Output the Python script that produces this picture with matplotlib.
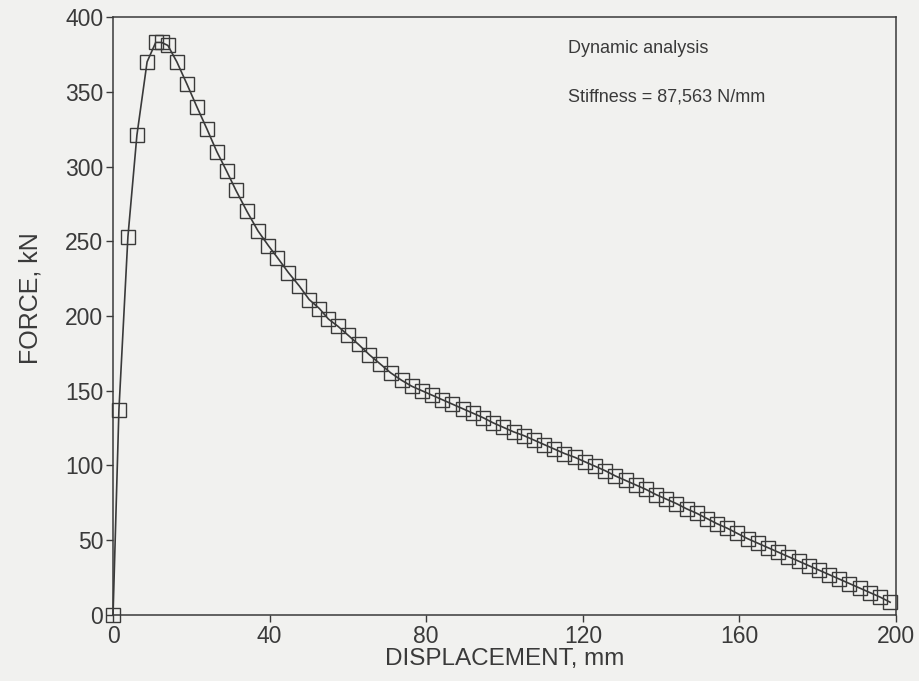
import matplotlib.pyplot as plt

# displacement (mm) and force (kN)
displacement = [0, 1.5, 3.8, 6.1, 8.7, 10.9, 12.4, 14.0, 16.3, 18.9, 21.4, 24.0,
                26.5, 29.0, 31.4, 34.2, 37.0, 39.7, 42.0, 44.8, 47.6, 50.1, 52.7,
                55.0, 57.5, 60.1, 62.7, 65.5, 68.2, 70.9, 73.7, 76.3,
                78.9, 81.5, 84.1, 86.7, 89.3, 91.9, 94.5, 97.1, 99.7, 102.3,
                104.9, 107.5, 110.1, 112.7, 115.3, 117.9, 120.5, 123.1, 125.7,
                128.3, 130.9, 133.5, 136.1, 138.7, 141.3, 143.9, 146.5, 149.1,
                151.7, 154.3, 156.9, 159.5, 162.1, 164.7, 167.3, 169.9, 172.5,
                175.1, 177.7, 180.3, 182.9, 185.5, 188.1, 190.7, 193.3, 195.9,
                198.5]
force = [0, 137, 253, 321, 370, 383, 383, 381, 370, 355, 340, 325,
         310, 297, 284, 270, 257, 247, 239, 229, 220, 211, 205,
         198, 193, 187, 181, 174, 168, 162, 157, 153,
         150, 147, 144, 141, 138, 135, 132, 128.5, 125.5, 122.5,
         120, 117, 114, 111, 108, 105.5, 102.5, 99.5, 96.5,
         93, 90, 87, 84, 80.5, 77.5, 74.5, 71, 68,
         64.5, 61, 58, 54.5, 51, 48, 45, 42, 39,
         36, 33, 30, 27, 24, 21, 18, 15, 12,
         8.5]

x_ticks = [0, 40, 80, 120, 160, 200]
y_ticks = [0, 50, 100, 150, 200, 250, 300, 350, 400]

plt.rcParams['font.family'] = ['Liberation Sans', 'DejaVu Sans']
ink = '#3a3a3a'
paper = '#f1f1ef'

fig = plt.figure(figsize=(9.19, 6.81), dpi=100, facecolor=paper)
ax = fig.add_axes([0.123, 0.097, 0.852, 0.878], facecolor=paper)

ax.plot(displacement, force, color=ink, linewidth=1.2, marker='s',
        markersize=9.5, markerfacecolor='none', markeredgecolor=ink,
        markeredgewidth=1.0, clip_on=False)

ax.set_xlim(0, 200)
ax.set_ylim(0, 400)
ax.set_xticks(x_ticks)
ax.set_yticks(y_ticks)
ax.tick_params(colors=ink, labelsize=16.5, length=5, width=1,
               direction='out', pad=2)
for spine in ax.spines.values():
    spine.set_color(ink)
    spine.set_linewidth(1.1)

ax.set_xlabel('DISPLACEMENT, mm', fontsize=17.5, color=ink, labelpad=0)
ax.set_ylabel('FORCE, kN', fontsize=18, color=ink)
ax.yaxis.set_label_coords(-0.09, 0.53)

ax.text(0.581, 0.948, 'Dynamic analysis', transform=ax.transAxes,
        fontsize=13, color=ink, va='center', ha='left')
ax.text(0.581, 0.866, 'Stiffness = 87,563 N/mm', transform=ax.transAxes,
        fontsize=13, color=ink, va='center', ha='left')

plt.savefig('out.png', dpi=100, facecolor=paper)
